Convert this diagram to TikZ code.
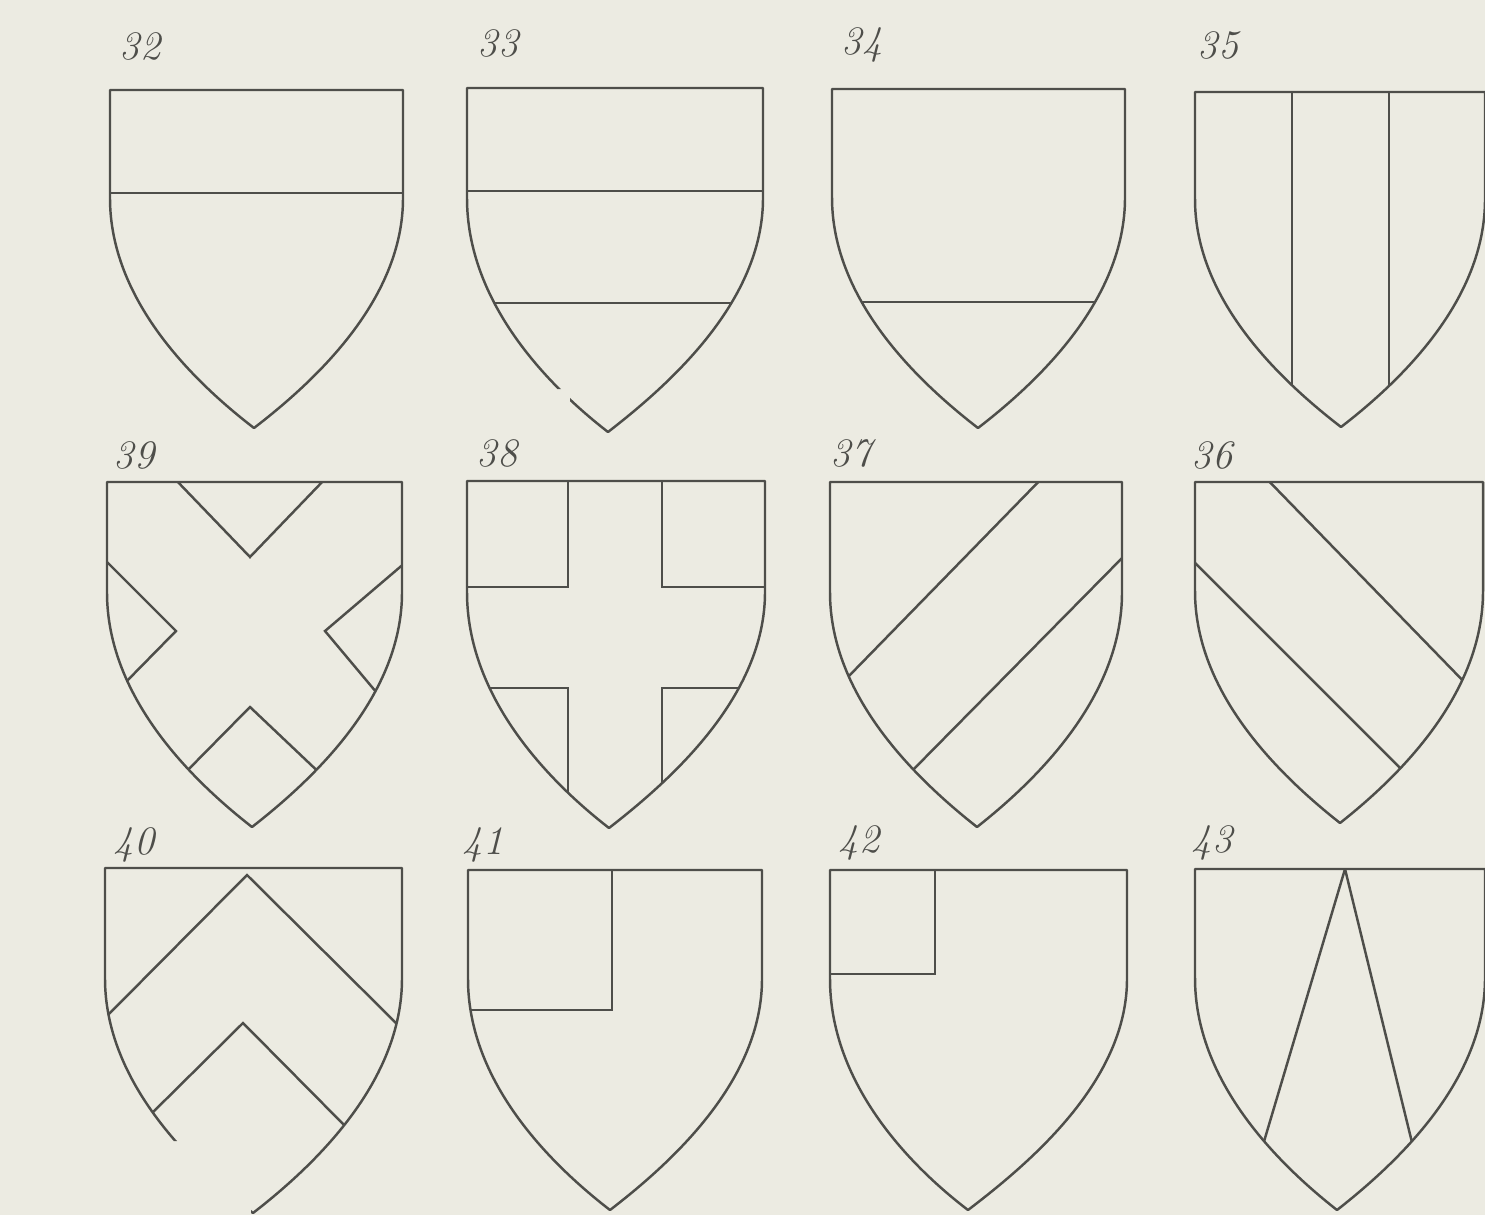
\documentclass[tikz,border=0pt]{standalone}
\usepackage{tikz}
\usepackage{xcolor}
\definecolor{paper}{RGB}{236,235,226}
\definecolor{ink}{RGB}{78,78,74}
\tikzset{
    outline/.style={draw=ink, line width=0.7pt, line join=round, nonzero rule},
    charge/.style={draw=ink, line width=0.7pt},
    num/.style={text=ink, font=\fontsize{11.5}{13}\selectfont\itshape, inner sep=0pt}
}
% shield outline: left, top, right, point y, point x, charges (clipped to the shield)
\newcommand{\shield}[6]{%
    \pgfmathsetmacro\shH{#4-#2}%
    \pgfmathsetmacro\shW{#3-#1}%
    \begin{scope}[nonzero rule]
        \clip (#1,#2) -- (#3,#2) -- (#3,{#2+0.32*\shH})
            .. controls (#3,{#2+0.62*\shH}) and ({#5+0.21*\shW},{#2+0.86*\shH}) .. (#5,#4)
            .. controls ({#5-0.21*\shW},{#2+0.86*\shH}) and (#1,{#2+0.62*\shH}) .. (#1,{#2+0.32*\shH}) -- cycle;
        #6
    \end{scope}
    \draw[outline] (#1,#2) -- (#3,#2) -- (#3,{#2+0.32*\shH})
        .. controls (#3,{#2+0.62*\shH}) and ({#5+0.21*\shW},{#2+0.86*\shH}) .. (#5,#4)
        .. controls ({#5-0.21*\shW},{#2+0.86*\shH}) and (#1,{#2+0.62*\shH}) .. (#1,{#2+0.32*\shH}) -- cycle;
}

\begin{document}
\begin{tikzpicture}[x=0.01cm, y=-0.01cm]

    \fill[paper] (0,0) rectangle (1485,1215);
    \useasboundingbox (0,0) rectangle (1485,1215);

    % numbers
    \node[num] (n32) at (140,46) {32};
    \node[num] (n33) at (498,43) {33};
    \node[num] (n34) at (862,45) {34};
    \node[num] (n35) at (1218,45) {35};
    \node[num] (n39) at (134,455) {39};
    \node[num] (n38) at (497,453) {38};
    \node[num] (n37) at (851,453) {37};
    \node[num] (n36) at (1212,455) {36};
    \node[num] (n40) at (134,845) {40};
    \node[num] (n41) at (483,845) {41};
    \node[num] (n42) at (859,843) {42};
    \node[num] (n43) at (1212,843) {43};

    % first row
    \shield{110}{90}{403}{428}{254}{\draw[charge] (100,193) -- (410,193);}
    \begin{scope}[even odd rule]
        \clip (0,0) rectangle (1485,1215) (552,389) rectangle (570,407);
        \shield{467}{88}{763}{432}{608}{
            \draw[charge] (460,191) -- (770,191);
            \draw[charge] (470,303) -- (760,303);}
    \end{scope}
    \shield{832}{89}{1125}{428}{978}{\draw[charge] (820,302) -- (1135,302);}
    \shield{1195}{92}{1485}{427}{1341}{
        \draw[charge] (1292,85) -- (1292,440);
        \draw[charge] (1389,85) -- (1389,440);}

    % second row
    \shield{107}{482}{402}{827}{252}{
        \draw[charge] (150,453) -- (250,557) -- (350,453);
        \draw[charge] (96,551) -- (176,631) -- (120,688);
        \draw[charge] (413,556) -- (325,631) -- (382,699);
        \draw[charge] (178,780) -- (250,707) -- (327,780);}
    \shield{467}{481}{765}{828}{609}{
        \draw[charge] (568,470) -- (568,587) -- (455,587);
        \draw[charge] (662,470) -- (662,587) -- (775,587);
        \draw[charge] (455,688) -- (568,688) -- (568,850);
        \draw[charge] (775,688) -- (662,688) -- (662,850);}
    \shield{830}{482}{1122}{827}{977}{
        \draw[charge] (1048,472) -- (845,680);
        \draw[charge] (1128,552) -- (905,778);}
    \shield{1195}{482}{1483}{823}{1340}{
        \draw[charge] (1260,472) -- (1472,690);
        \draw[charge] (1185,553) -- (1412,780);}

    % third row
    \begin{scope}[even odd rule]
        \clip (0,0) rectangle (1485,1215) (160,1141) rectangle (251,1225);
        \shield{105}{868}{402}{1213}{253}{
            \draw[charge] (103,1020) -- (247,875) -- (398,1025);
            \draw[charge] (143,1122) -- (243,1023) -- (352,1133);}
    \end{scope}
    \shield{468}{870}{762}{1210}{610}{
        \draw[charge] (612,860) -- (612,1010) -- (455,1010);}
    \shield{830}{870}{1127}{1210}{968}{
        \draw[charge] (935,860) -- (935,974) -- (820,974);}
    \shield{1195}{869}{1485}{1210}{1337}{
        \draw[charge] (1257,1165) -- (1345,869) -- (1418,1167);}

\end{tikzpicture}
\end{document}
